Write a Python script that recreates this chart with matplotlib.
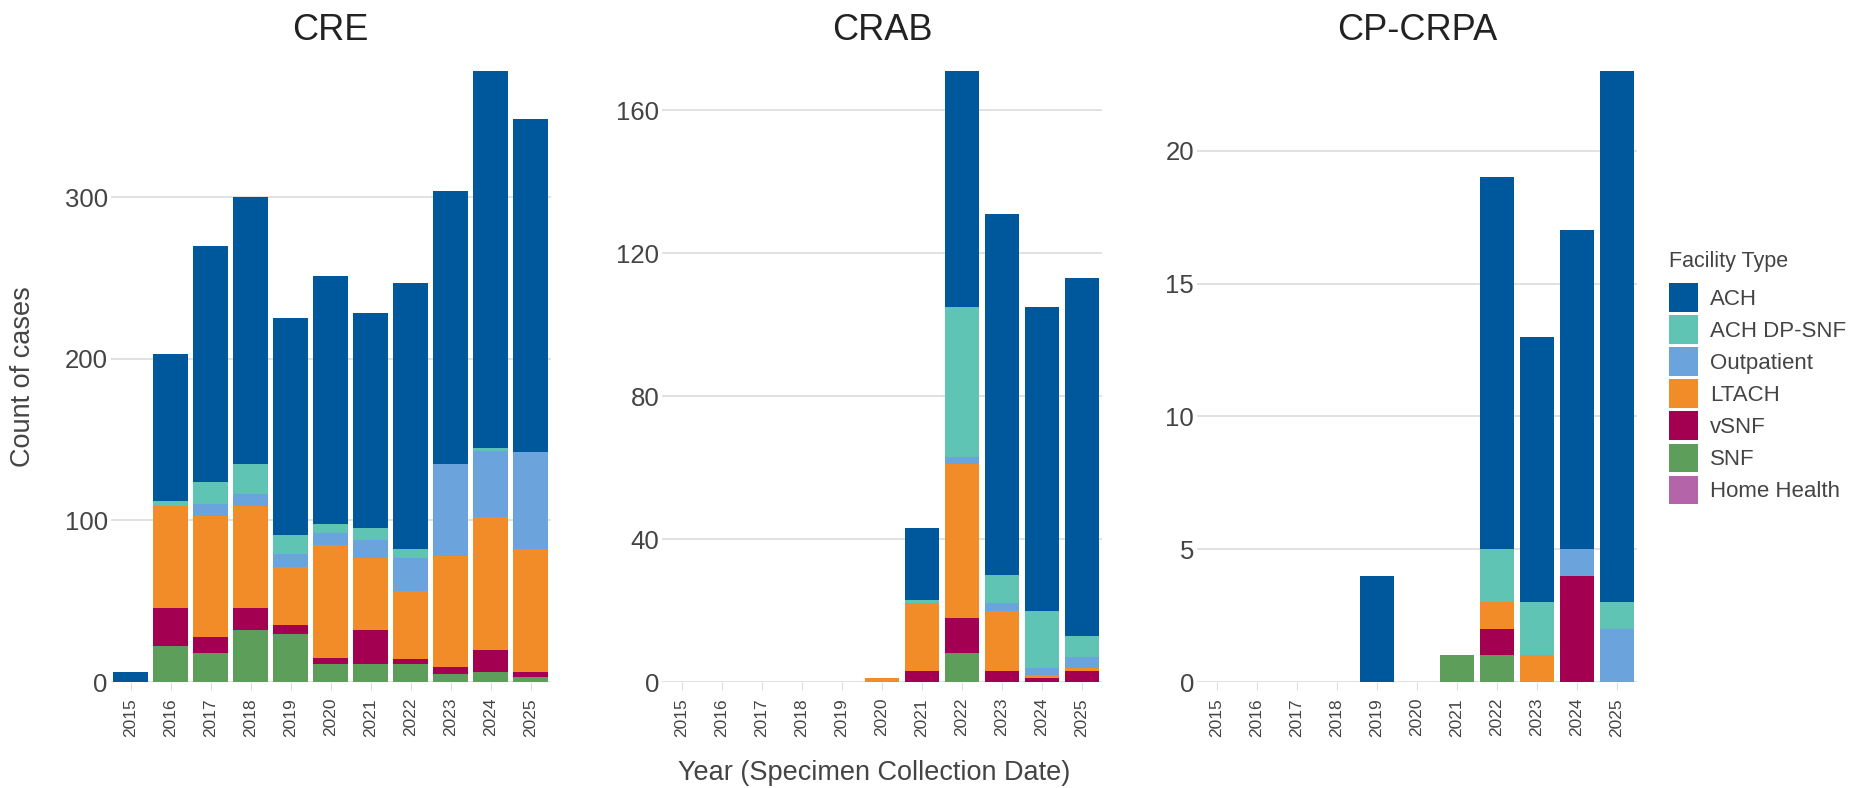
import numpy as np
import matplotlib.pyplot as plt

plt.rcParams['font.family'] = ['Liberation Sans', 'DejaVu Sans']

# years on the x axis (same for all three panels)
years = ['2015', '2016', '2017', '2018', '2019', '2020',
         '2021', '2022', '2023', '2024', '2025']

# stacking order, bottom to top
facility_types = ['Home Health', 'SNF', 'vSNF', 'LTACH', 'Outpatient', 'ACH DP-SNF', 'ACH']
colors = {
    'ACH': '#00589c',
    'ACH DP-SNF': '#5fc4b3',
    'Outpatient': '#6ba4dc',
    'LTACH': '#f28c28',
    'vSNF': '#a30052',
    'SNF': '#5c9e5a',
    'Home Health': '#b465aa',
}

# CRE counts
cre_ach = [6, 91, 146, 165, 134, 153, 133, 165, 169, 233, 206]
cre_dpsnf = [0, 3, 14, 19, 12, 6, 7, 5, 0, 2, 0]
cre_outpatient = [0, 0, 7, 7, 8, 7, 11, 21, 57, 41, 60]
cre_ltach = [0, 63, 75, 63, 36, 70, 45, 42, 69, 82, 76]
cre_vsnf = [0, 24, 10, 14, 5, 4, 21, 3, 4, 14, 3]
cre_snf = [0, 22, 18, 32, 30, 11, 11, 11, 5, 6, 3]
cre_home = [0, 0, 0, 0, 0, 0, 0, 0, 0, 0, 0]

# CRAB counts
crab_ach = [0, 0, 0, 0, 0, 0, 20, 66, 101, 85, 100]
crab_dpsnf = [0, 0, 0, 0, 0, 0, 1, 42, 8, 16, 6]
crab_outpatient = [0, 0, 0, 0, 0, 0, 0, 2, 2, 2, 3]
crab_ltach = [0, 0, 0, 0, 0, 1, 19, 43, 17, 1, 1]
crab_vsnf = [0, 0, 0, 0, 0, 0, 3, 10, 3, 1, 3]
crab_snf = [0, 0, 0, 0, 0, 0, 0, 8, 0, 0, 0]
crab_home = [0, 0, 0, 0, 0, 0, 0, 0, 0, 0, 0]

# CP-CRPA counts
crpa_ach = [0, 0, 0, 0, 4, 0, 0, 14, 10, 12, 20]
crpa_dpsnf = [0, 0, 0, 0, 0, 0, 0, 2, 2, 0, 1]
crpa_outpatient = [0, 0, 0, 0, 0, 0, 0, 0, 0, 1, 2]
crpa_ltach = [0, 0, 0, 0, 0, 0, 0, 1, 1, 0, 0]
crpa_vsnf = [0, 0, 0, 0, 0, 0, 0, 1, 0, 4, 0]
crpa_snf = [0, 0, 0, 0, 0, 0, 1, 1, 0, 0, 0]
crpa_home = [0, 0, 0, 0, 0, 0, 0, 0, 0, 0, 0]

panels = [
    ('CRE', [cre_home, cre_snf, cre_vsnf, cre_ltach, cre_outpatient, cre_dpsnf, cre_ach],
     [0, 100, 200, 300]),
    ('CRAB', [crab_home, crab_snf, crab_vsnf, crab_ltach, crab_outpatient, crab_dpsnf, crab_ach],
     [0, 40, 80, 120, 160]),
    ('CP-CRPA', [crpa_home, crpa_snf, crpa_vsnf, crpa_ltach, crpa_outpatient, crpa_dpsnf, crpa_ach],
     [0, 5, 10, 15, 20]),
]

W, H = 1866, 788
fig = plt.figure(figsize=(W / 100, H / 100), dpi=100)

# panel left edges in pixels
lefts = [110.5, 662, 1197]
ax_w = 440
ax_bottom = 682
ax_top = 71

x = np.arange(len(years))
for (title, series, yticks), left in zip(panels, lefts):
    ax = fig.add_axes([left / W, (H - ax_bottom) / H, ax_w / W, (ax_bottom - ax_top) / H])
    bottom = np.zeros(len(years))
    for name, vals in zip(facility_types, series):
        vals = np.array(vals)
        ax.bar(x, vals, width=0.87, bottom=bottom, color=colors[name], label=name,
               linewidth=0, zorder=2)
        bottom += vals
    ax.set_xlim(-0.5, len(years) - 0.5)
    ax.set_ylim(0, bottom.max())
    ax.set_xticks(x)
    ax.set_xticklabels(years, rotation=90, fontsize=12.5, color='#444444')
    ax.set_yticks(yticks)
    ax.set_yticklabels([str(t) for t in yticks], fontsize=18.5, color='#444444')
    ax.tick_params(axis='x', length=6, color='#dddddd', pad=5.5)
    ax.tick_params(axis='y', length=0, pad=2)
    ax.grid(axis='y', color='#dcdcdc', linewidth=1.2, zorder=0)
    ax.set_axisbelow(True)
    for s in ax.spines.values():
        s.set_visible(False)
    fig.text((left + ax_w / 2) / W, 1 - 40 / H, title, ha='center', va='baseline',
             fontsize=26, color='#222222')

fig.text(874 / W, 1 - 780 / H, 'Year (Specimen Collection Date)', ha='center',
         va='baseline', fontsize=19.5, color='#444444')
fig.text(23 / W, 1 - 377 / H, 'Count of cases', rotation=90, ha='center', va='center',
         fontsize=19.5, color='#444444')

# legend, ACH on top
fig.text(1669 / W, 1 - 267 / H, 'Facility Type', ha='left', va='baseline',
         fontsize=15.5, color='#444444')
handles, labels = ax.get_legend_handles_labels()
leg = fig.legend(handles[::-1], labels[::-1],
                 loc='upper left', bbox_to_anchor=(1669 / W, 1 - 283 / H),
                 frameon=False, fontsize=16,
                 handlelength=1.31, handleheight=1.6, handletextpad=0.55,
                 labelspacing=0.16, borderpad=0, borderaxespad=0)
for t in leg.get_texts():
    t.set_color('#444444')

fig.savefig('out.png', dpi=100)
